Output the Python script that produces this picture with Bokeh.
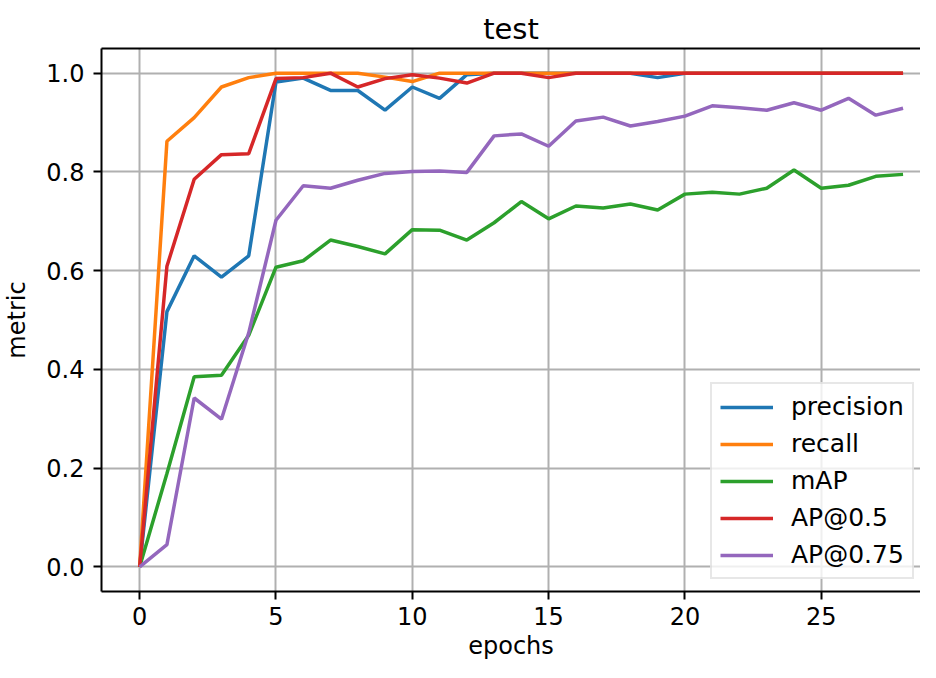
from bokeh.plotting import figure
from bokeh.models import FixedTicker, PrintfTickFormatter, Range1d, LinearAxis
from bokeh.embed import file_html
from bokeh.resources import INLINE

epochs = list(range(29))
precision = [0, 0.517, 0.63, 0.587, 0.63, 0.982, 0.99, 0.965, 0.965, 0.925, 0.972, 0.949, 0.997,
             1, 1, 1, 1, 1, 1, 0.991, 1, 1, 1, 1, 1, 1, 1, 1, 1]
recall = [0, 0.862, 0.91, 0.972, 0.991, 1.0, 1, 1, 1, 0.992, 0.983,
          1, 1, 1, 1, 1, 1, 1, 1, 1, 1, 1, 1, 1, 1, 1, 1, 1, 1]
mAP = [0, 0.189, 0.385, 0.388, 0.469, 0.607, 0.62, 0.662, 0.649, 0.634, 0.683, 0.682, 0.662, 0.697,
       0.74, 0.705, 0.731, 0.727, 0.735, 0.723, 0.755, 0.759, 0.755, 0.767, 0.804, 0.767, 0.773, 0.791, 0.795]
ap50 = [0, 0.609, 0.785, 0.835, 0.837, 0.989, 0.991, 1.0, 0.972, 0.989, 0.997, 0.99, 0.98, 1, 1, 0.991,
        1, 1, 1, 1, 1, 1, 1, 1, 1, 1, 1, 1, 1]
ap75 = [0, 0.045, 0.342, 0.299, 0.474, 0.702, 0.772, 0.767, 0.783, 0.797, 0.801, 0.802, 0.799, 0.873,
        0.877, 0.852, 0.903, 0.911, 0.893, 0.902, 0.913, 0.934, 0.93, 0.925, 0.94, 0.925, 0.949, 0.915, 0.929]

series = [("precision", precision, "#1f77b4"),
          ("recall", recall, "#ff7f0e"),
          ("mAP", mAP, "#2ca02c"),
          ("AP@0.5", ap50, "#d62728"),
          ("AP@0.75", ap75, "#9467bd")]

x_ticks = [0, 5, 10, 15, 20, 25]
y_ticks = [0.0, 0.2, 0.4, 0.6, 0.8, 1.0]

FONT = "DejaVu Sans"
TICK_PX = "24px"

p = figure(width=920, height=662, output_backend="svg", toolbar_location=None,
           x_range=Range1d(-1.4, 28.64), y_range=Range1d(-0.05, 1.05),
           min_border_left=100, min_border_right=0, min_border_top=48, min_border_bottom=0,
           title="test", x_axis_label="epochs", y_axis_label="metric")

p.title.align = "center"
p.title.text_font = FONT
p.title.text_font_size = "29px"
p.title.text_font_style = "normal"
p.title.text_color = "black"
p.title.offset = 0
p.title.standoff = 6

p.outline_line_color = None
p.background_fill_color = "white"
p.border_fill_color = "white"

for ax in (p.xaxis, p.yaxis):
    ax.axis_line_color = "black"
    ax.axis_line_width = 2
    ax.major_tick_line_color = "black"
    ax.major_tick_line_width = 2
    ax.major_tick_out = 8
    ax.major_tick_in = 0
    ax.minor_tick_line_color = None
    ax.major_label_text_font = FONT
    ax.major_label_text_font_size = TICK_PX
    ax.major_label_text_color = "black"
    ax.axis_label_text_font = FONT
    ax.axis_label_text_font_size = TICK_PX
    ax.axis_label_text_font_style = "normal"
    ax.axis_label_text_color = "black"

p.xaxis.ticker = FixedTicker(ticks=x_ticks)
p.yaxis.ticker = FixedTicker(ticks=y_ticks)
p.yaxis.formatter = PrintfTickFormatter(format="%.1f")
p.xaxis.major_label_standoff = 7
p.yaxis.major_label_standoff = 9
p.xaxis.axis_label_standoff = 4
p.yaxis.axis_label_standoff = 12

# top spine (the right spine lies outside the cropped reference image)
top = LinearAxis(ticker=FixedTicker(ticks=[]), major_label_text_font_size="0px",
                 major_tick_line_color=None, minor_tick_line_color=None,
                 axis_line_color="black", axis_line_width=2)
p.add_layout(top, "above")

p.xgrid.ticker = FixedTicker(ticks=x_ticks)
p.ygrid.ticker = FixedTicker(ticks=y_ticks)
for g in (p.xgrid, p.ygrid):
    g.grid_line_color = "#b0b0b0"
    g.grid_line_width = 2

for name, vals, color in series:
    p.line(epochs, vals, line_color=color, line_width=3.5, legend_label=name)

lg = p.legend[0]
lg.location = (609, 12)
lg.margin = 0
lg.padding = 8
lg.spacing = 8
lg.glyph_width = 53
lg.glyph_height = 24
lg.label_standoff = 18
lg.label_text_font = FONT
lg.label_text_font_size = "25px"
lg.label_text_color = "black"
lg.border_line_color = "#d0d0d0"
lg.border_line_width = 2
lg.background_fill_color = "white"
lg.background_fill_alpha = 0.8

open("out.html", "w").write(file_html(p, INLINE))
